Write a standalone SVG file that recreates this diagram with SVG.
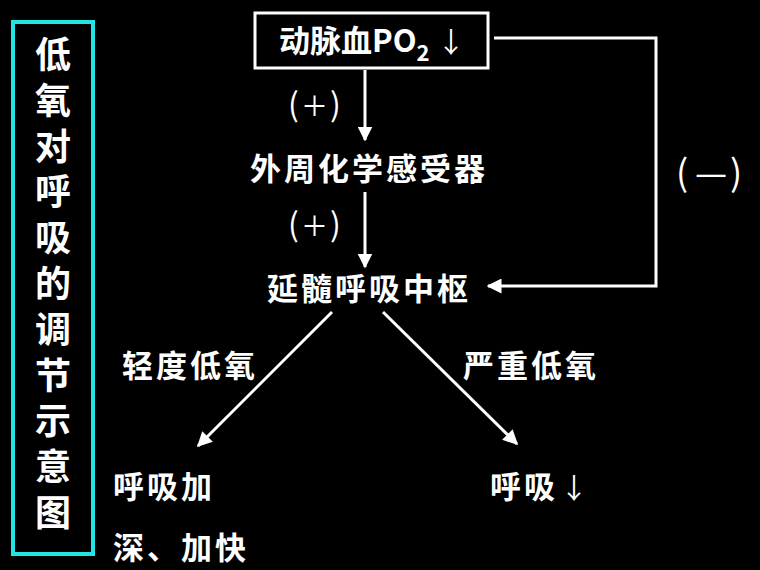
<svg xmlns="http://www.w3.org/2000/svg" width="760" height="570" viewBox="0 0 760 570">
<defs>
<style>
.t{font-family:"Noto Sans CJK SC","Liberation Sans",sans-serif;font-weight:bold;fill:#fff;}
.s{font-family:"Noto Sans CJK SC","Liberation Sans",sans-serif;fill:#fff;}
.ln{stroke:#fff;stroke-width:3;fill:none;}
</style>
<marker id="ah" viewBox="0 0 10 10" refX="9" refY="5" markerWidth="5" markerHeight="5" orient="auto" markerUnits="strokeWidth">
<path d="M0,0 L10,5 L0,10 z" fill="#fff"/>
</marker>
</defs>
<rect width="760" height="570" fill="#000"/>
<g id="title">
<rect x="13" y="22" width="80" height="532" fill="none" stroke="#22E6E6" stroke-width="4"/>
<g class="t" font-size="36" text-anchor="middle">
<text x="53" y="68">低</text>
<text x="53" y="114">氧</text>
<text x="53" y="160">对</text>
<text x="53" y="205">呼</text>
<text x="53" y="251">吸</text>
<text x="53" y="297">的</text>
<text x="53" y="343">调</text>
<text x="53" y="389">节</text>
<text x="53" y="434">示</text>
<text x="53" y="480">意</text>
<text x="53" y="526">图</text>
</g>
</g>
<g id="po2">
<rect x="255" y="13" width="233" height="55" fill="none" stroke="#fff" stroke-width="3"/>
<text class="t" x="279" y="52" font-size="31">动脉血PO<tspan font-size="22" dy="9">2</tspan></text>
<text class="s" x="437" y="53" font-size="28">↓</text>
</g>
<g id="receptor">
<text class="t" x="250" y="180" font-size="31" letter-spacing="3">外周化学感受器</text>
</g>
<g id="center">
<text class="t" x="267" y="300" font-size="31" letter-spacing="3">延髓呼吸中枢</text>
</g>
<g id="mild">
<text class="t" x="113" y="498" font-size="31" letter-spacing="3">呼吸加</text>
<text class="t" x="113" y="559" font-size="31" letter-spacing="3">深、加快</text>
</g>
<g id="severe">
<text class="t" x="490" y="498" font-size="31" letter-spacing="3">呼吸</text>
<text class="s" x="560" y="499" font-size="28">↓</text>
</g>
<g id="connectors">
<line class="ln" x1="365" y1="70" x2="365" y2="140" marker-end="url(#ah)"/>
<line class="ln" x1="365" y1="192" x2="365" y2="267" marker-end="url(#ah)"/>
<polyline class="ln" points="494,38 656,38 656,286 488,286" marker-end="url(#ah)"/>
<line class="ln" x1="332" y1="312" x2="198" y2="446" marker-end="url(#ah)"/>
<line class="ln" x1="383" y1="312" x2="517" y2="444" marker-end="url(#ah)"/>
<text class="s" y="116" font-size="32"><tspan x="288">(</tspan><tspan x="301" font-size="27">＋</tspan><tspan x="330">)</tspan></text>
<text class="s" y="236" font-size="32"><tspan x="288">(</tspan><tspan x="301" font-size="27">＋</tspan><tspan x="330">)</tspan></text>
<text class="s" y="186" font-size="36"><tspan x="676">(</tspan><tspan x="695">—</tspan><tspan x="730">)</tspan></text>
<text class="t" x="122" y="377" font-size="31" letter-spacing="3">轻度低氧</text>
<text class="t" x="463" y="377" font-size="31" letter-spacing="3">严重低氧</text>
</g>
</svg>
